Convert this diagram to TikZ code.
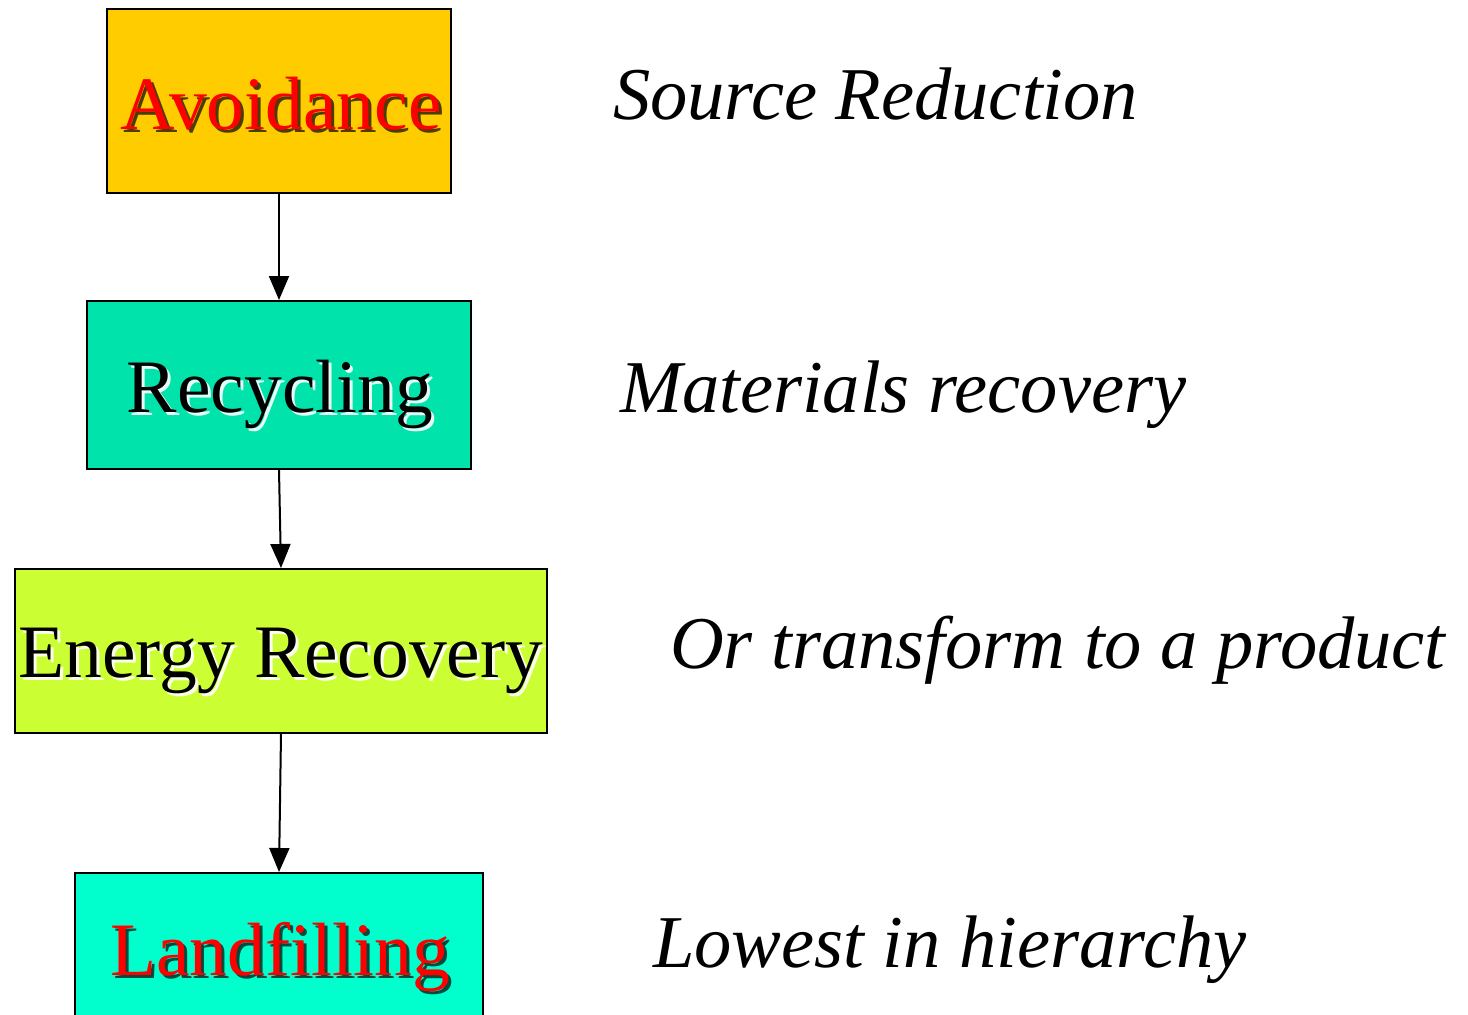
\documentclass[tikz,border=0pt]{standalone}
\usepackage{fontspec}
\setmainfont{Liberation Serif}
\usetikzlibrary{arrows.meta}
\definecolor{avfill}{HTML}{FFCC00}
\definecolor{recfill}{HTML}{00E3AB}
\definecolor{enfill}{HTML}{CCFF33}
\definecolor{lafill}{HTML}{00FFCC}
\definecolor{redtxt}{HTML}{FF0000}
\tikzset{
  box/.style={draw=black, line width=2pt, rectangle, inner sep=0pt},
  boxtext/.style={anchor=base, inner sep=0pt, font=\fontsize{75.5}{80}\selectfont},
  sidetext/.style={anchor=base west, inner sep=0pt, font=\fontsize{74.5}{80}\selectfont\itshape},
  conn/.style={line width=2pt, -{Triangle[length=24pt,width=20pt]}},
}
\begin{document}
\begin{tikzpicture}[x=1pt,y=-1pt]
\useasboundingbox (0,0) rectangle (1468,1015);
\begin{scope}
\clip (0,0) rectangle (1468,1015);
\node[box, fill=avfill, minimum width=344pt, minimum height=184pt] (av) at (279,101) {};
\node[box, fill=recfill, minimum width=384pt, minimum height=168pt] (rec) at (279,385) {};
\node[box, fill=enfill, minimum width=532pt, minimum height=164pt] (en) at (281,651) {};
\node[box, fill=lafill, minimum width=408pt, minimum height=160pt] (la) at (279,953) {};
\end{scope}
% box labels with shadows
\node[boxtext, text=black, opacity=0.7] (avs) at (284,132) {Avoidance};
\node[boxtext, text=redtxt] (avt) at (281,129) {Avoidance};
\node[boxtext, text=white, opacity=0.9] (recs) at (283,415) {Recycling};
\node[boxtext, text=black] (rect) at (280,412) {Recycling};
\node[boxtext, text=white, opacity=0.9] (ens) at (284,680) {Energy Recovery};
\node[boxtext, text=black] (ent) at (281,677) {Energy Recovery};
\node[boxtext, text=black, opacity=0.7] (las) at (283,978) {Landfilling};
\node[boxtext, text=redtxt] (lat) at (280,975) {Landfilling};
% connectors
\draw[conn] (av.south) -- (rec.north);
\draw[conn] (rec.south) -- (en.north);
\draw[conn] (en.south) -- (la.north);
% side texts
\node[sidetext] (s1) at (613,119) {Source Reduction};
\node[sidetext] (s2) at (620,412) {Materials recovery};
\node[sidetext] (s3) at (670,668) {Or transform to a product};
\node[sidetext] (s4) at (653,967) {Lowest in hierarchy};
\end{tikzpicture}
\end{document}
